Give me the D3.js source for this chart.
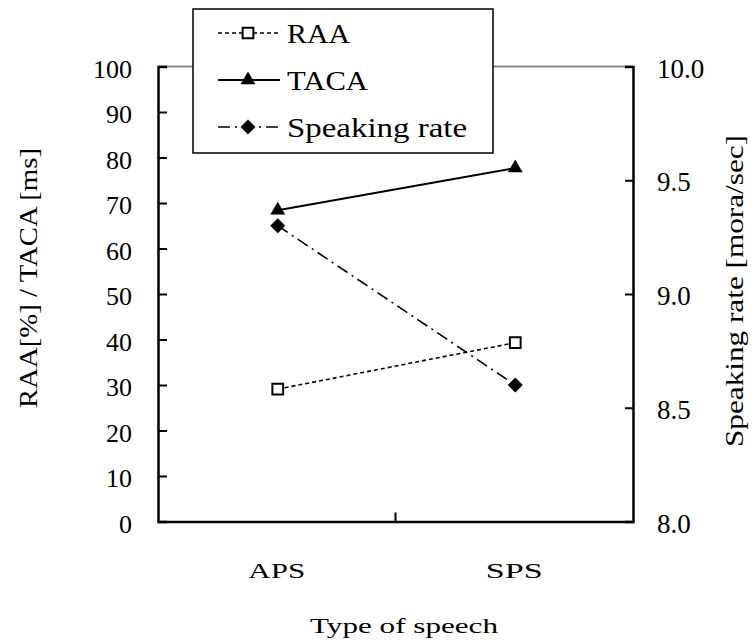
<!DOCTYPE html>
<html>
<head>
<meta charset="utf-8">
<script src="https://cdn.jsdelivr.net/npm/d3@7"></script>
<style>
  body { margin: 0; background: #fff; }
</style>
</head>
<body>
<svg id="chart" width="756" height="644"></svg>
<script>
// chart data
var categories = ["APS", "SPS"];
var raa = [29.1, 39.3];
var taca = [68.4, 77.7];
var speakingRate = [9.3, 8.6];
var leftTicks = [0, 10, 20, 30, 40, 50, 60, 70, 80, 90, 100];
var rightTicks = [8.0, 8.5, 9.0, 9.5, 10.0];

var m = { left: 158, right: 633, top: 66.5, bottom: 521.5 };

var svg = d3.select("#chart");

var x = d3.scaleBand().domain(categories).range([m.left, m.right]);
var yL = d3.scaleLinear().domain([0, 100]).range([m.bottom, m.top]);
var yR = d3.scaleLinear().domain([8, 10]).range([m.bottom, m.top]);

function label(sel, size, len) {
  sel.attr("font-family", "Liberation Serif").attr("font-size", size).attr("fill", "#000");
  // the original uses a wide face, so stretch to the measured width
  if (len) sel.attr("textLength", len).attr("lengthAdjust", "spacingAndGlyphs");
  return sel;
}

// top border (grey)
svg.append("line")
  .attr("x1", m.left).attr("x2", m.right)
  .attr("y1", m.top).attr("y2", m.top)
  .style("stroke", "#888").style("stroke-width", 2);

// left axis, ticks inward
var gL = svg.append("g").attr("transform", "translate(" + m.left + ",0)")
  .call(d3.axisRight(yL).tickValues(leftTicks).tickSize(9).tickFormat(""));
label(svg.selectAll(".lt").data(leftTicks).enter().append("text")
  .attr("x", 132).attr("y", d => yL(d) + 11)
  .attr("text-anchor", "end")
  .text(d => d), 26);

// right axis
var gR = svg.append("g").attr("transform", "translate(" + m.right + ",0)")
  .call(d3.axisLeft(yR).tickValues(rightTicks).tickSize(8).tickFormat(""));
label(svg.selectAll(".rt").data(rightTicks).enter().append("text")
  .attr("x", 657).attr("y", d => yR(d) + 11)
  .attr("text-anchor", "start")
  .text(d => d.toFixed(1)), 27);

// bottom axis with a single middle tick
var gB = svg.append("g").attr("transform", "translate(0," + m.bottom + ")")
  .call(d3.axisTop(x).tickValues([]).tickSizeOuter(0));
gB.append("line")
  .attr("x1", x("SPS")).attr("x2", x("SPS"))
  .attr("y1", 0).attr("y2", -9);

[gL, gR, gB].forEach(function (g) {
  g.select(".domain").style("stroke", "#000").style("stroke-width", 2.5);
  g.selectAll("line").style("stroke", "#000").style("stroke-width", 2);
});

svg.selectAll(".xl").data(categories).enter().append("text")
  .attr("x", d => x(d) + x.bandwidth() / 2).attr("y", 578)
  .attr("text-anchor", "middle")
  .text(d => d)
  .each(function () { label(d3.select(this), 22, 57); });

// axis titles
label(svg.append("text")
  .attr("transform", "translate(37,278) rotate(-90)")
  .attr("text-anchor", "middle")
  .text("RAA[%] / TACA [ms]"), 26, 260);
label(svg.append("text")
  .attr("transform", "translate(743,291) rotate(-90)")
  .attr("text-anchor", "middle")
  .text("Speaking rate [mora/sec]"), 26, 312);
label(svg.append("text")
  .attr("x", 404).attr("y", 633)
  .attr("text-anchor", "middle")
  .text("Type of speech"), 22, 188);

var cx = d => x(d) + x.bandwidth() / 2 + 1;

var series = [
  { name: "RAA", values: raa, y: yL, dash: "4,3", width: 1.6, symbol: d3.symbolSquare, size: 115, fill: "#fff", rot: 0, len: 63 },
  { name: "TACA", values: taca, y: yL, dash: null, width: 2, symbol: d3.symbolTriangle, size: 85, fill: "#000", rot: 0, len: 81 },
  { name: "Speaking rate", values: speakingRate, y: yR, dash: "12,5,2,5", width: 1.6, symbol: d3.symbolSquare, size: 105, fill: "#000", rot: 45, len: 180 }
];

function marker(sel, s) {
  sel.attr("d", d3.symbol().type(s.symbol).size(s.size))
    .style("fill", s.fill).style("stroke", "#000")
    .style("stroke-width", s.fill === "#fff" ? 2 : 0.5);
}

series.forEach(function (s) {
  var pts = categories.map((c, i) => [cx(c), s.y(s.values[i])]);
  svg.append("path")
    .attr("d", d3.line()(pts))
    .style("fill", "none").style("stroke", "#000")
    .style("stroke-width", s.width)
    .style("stroke-dasharray", s.dash);
  marker(svg.selectAll(null).data(pts).enter().append("path")
    .attr("transform", d => "translate(" + d[0] + "," + d[1] + ") rotate(" + s.rot + ")"), s);
});

// legend
var leg = svg.append("g");
leg.append("rect")
  .attr("x", 193).attr("y", 9).attr("width", 300).attr("height", 144)
  .style("fill", "#fff").style("stroke", "#000").style("stroke-width", 1.5);
series.forEach(function (s, i) {
  var ly = 33 + i * 47;
  leg.append("line")
    .attr("x1", 218).attr("x2", 280).attr("y1", ly).attr("y2", ly)
    .style("stroke", "#000").style("stroke-width", s.width)
    .style("stroke-dasharray", s.dash);
  marker(leg.append("path")
    .attr("transform", "translate(248," + ly + ") rotate(" + s.rot + ")"), s);
  label(leg.append("text")
    .attr("x", 287).attr("y", ly + 10)
    .text(s.name), 27, s.len);
});
</script>
</body>
</html>
